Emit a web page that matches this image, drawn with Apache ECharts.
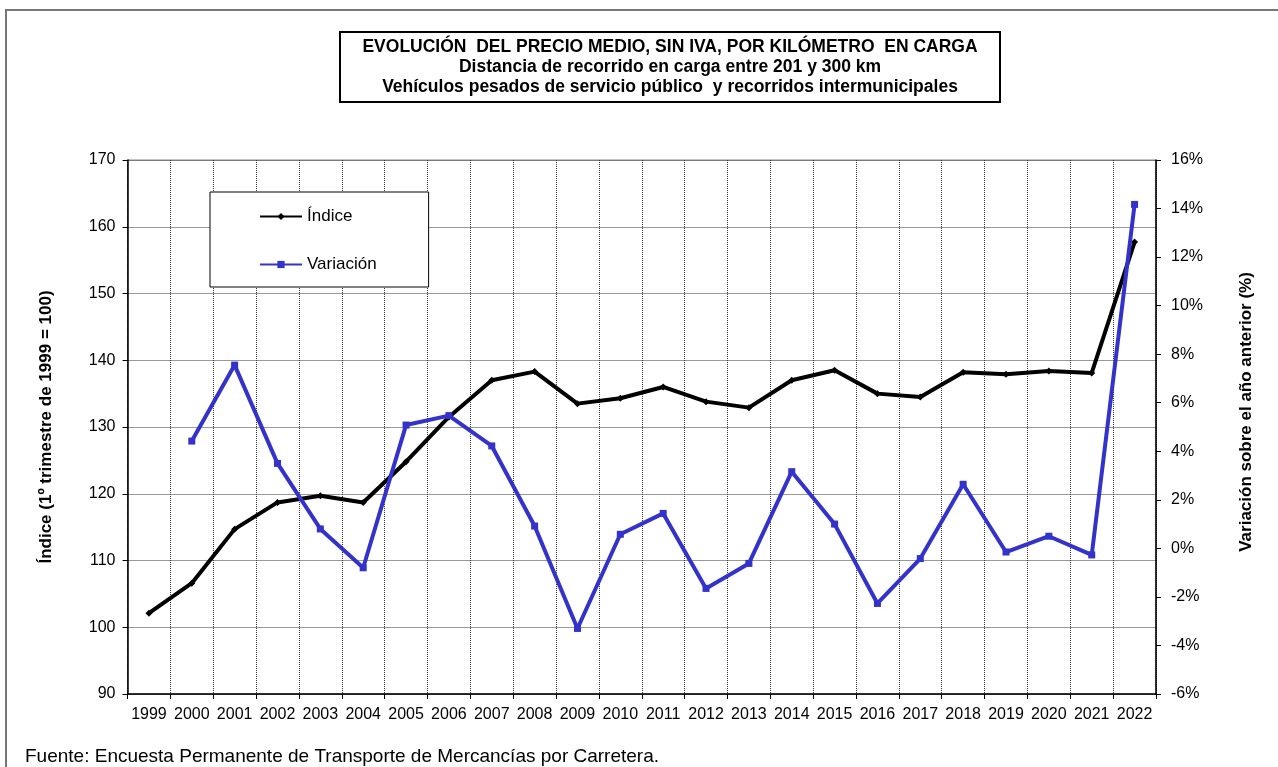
<!DOCTYPE html>
<html><head><meta charset="utf-8">
<script src="https://cdn.jsdelivr.net/npm/echarts@6/dist/echarts.min.js"></script>
<style>html,body{margin:0;padding:0;background:#fff}#c{width:1278px;height:767px}</style>
</head><body><div id="c"></div>
<script>
const years = ['1999','2000','2001','2002','2003','2004','2005','2006','2007','2008','2009','2010','2011','2012','2013','2014','2015','2016','2017','2018','2019','2020','2021','2022'];
const indice = [102.1,106.6,114.7,118.7,119.7,118.7,124.8,131.5,137.0,138.3,133.5,134.3,136.0,133.8,132.9,137.0,138.5,135.0,134.5,138.2,137.9,138.4,138.1,157.7];
const variacion = [null,4.42,7.55,3.5,0.8,-0.8,5.08,5.47,4.22,0.92,-3.3,0.58,1.44,-1.65,-0.62,3.16,1.0,-2.27,-0.42,2.64,-0.15,0.5,-0.27,14.17];
const titleLines = ['EVOLUCIÓN  DEL PRECIO MEDIO, SIN IVA, POR KILÓMETRO  EN CARGA','Distancia de recorrido en carga entre 201 y 300 km','Vehículos pesados de servicio público  y recorridos intermunicipales'];
const seriesNames = ['Índice','Variación'];
const leftName = 'Índice (1º trimestre de 1999 = 100)';
const rightName = 'Variación sobre el año anterior (%)';
const sourceNote = 'Fuente: Encuesta Permanente de Transporte de Mercancías por Carretera.';

const FONT = 'Liberation Sans, Arial, sans-serif';
const chart = echarts.init(document.getElementById('c'), null, {renderer:'canvas'});
chart.setOption({
  animation:false,
  backgroundColor:'#fff',
  textStyle:{fontFamily:FONT},
  graphic:[
    {type:'rect', shape:{x:6,y:10,width:1400,height:900}, style:{fill:null, stroke:'#777', lineWidth:2}, silent:true, z:0},
    {type:'rect', shape:{x:340,y:32,width:660,height:70}, style:{fill:'#fff', stroke:'#000', lineWidth:2}, z:10},
    {type:'text', x:670, y:67, z:11, style:{text:titleLines.join('\n'), align:'center', verticalAlign:'middle', font:'bold 17.5px '+FONT, lineHeight:20, fill:'#000'}},
    {type:'text', x:25, y:757, z:11, style:{text:sourceNote, align:'left', verticalAlign:'middle', font:'19px '+FONT, fill:'#000'}}
  ],
  grid:{left:127.5, right:122, top:160, bottom:73, show:true, borderColor:'#888', borderWidth:1, containLabel:false},
  legend:{
    orient:'vertical', left:210, top:192, data:seriesNames,
    itemWidth:42, itemHeight:9, itemGap:31,
    padding:[16,52,14,49],
    backgroundColor:'#fff', borderColor:'#000', borderWidth:1,
    textStyle:{fontSize:17, color:'#000', fontFamily:FONT}, z:20
  },
  xAxis:{
    type:'category', data:years, boundaryGap:true,
    axisLine:{onZero:false, lineStyle:{color:'#000', width:1.5}},
    axisTick:{show:true, interval:0, length:5, lineStyle:{color:'#000'}},
    axisLabel:{interval:0, fontSize:16, color:'#000', margin:13},
    splitLine:{show:true, interval:0, lineStyle:{color:'#333', type:'dotted', width:1}}
  },
  yAxis:[
    {type:'value', min:90, max:170, interval:10, position:'left',
     name:leftName, nameLocation:'middle', nameGap:72.5, nameRotate:90,
     nameTextStyle:{fontSize:17, fontWeight:'bold', color:'#000', fontFamily:FONT},
     axisLine:{show:true, lineStyle:{color:'#000', width:1.5}},
     axisTick:{show:true, length:5, lineStyle:{color:'#000'}},
     axisLabel:{fontSize:16, color:'#000', margin:12},
     splitLine:{show:true, lineStyle:{color:'#333', type:'dotted', width:1}}},
    {type:'value', min:-6, max:16, interval:2, position:'right',
     name:rightName, nameLocation:'middle', nameGap:81.5, nameRotate:90,
     nameTextStyle:{fontSize:17, fontWeight:'bold', color:'#000', fontFamily:FONT, padding:[0,0,0,30]},
     axisLine:{show:true, lineStyle:{color:'#000', width:1.5}},
     axisTick:{show:true, length:5, lineStyle:{color:'#000'}},
     axisLabel:{fontSize:16, color:'#000', margin:15, formatter:'{value}%'},
     splitLine:{show:false}}
  ],
  series:[
    {name:seriesNames[0], type:'line', yAxisIndex:0, data:indice,
     symbol:'diamond', symbolSize:7, showSymbol:true,
     lineStyle:{color:'#000', width:4}, itemStyle:{color:'#000'}, z:3},
    {name:seriesNames[1], type:'line', yAxisIndex:1, data:variacion,
     symbol:'rect', symbolSize:7, showSymbol:true, connectNulls:false,
     lineStyle:{color:'#3333CC', width:4}, itemStyle:{color:'#3333CC'}, z:4}
  ]
});
</script></body></html>
